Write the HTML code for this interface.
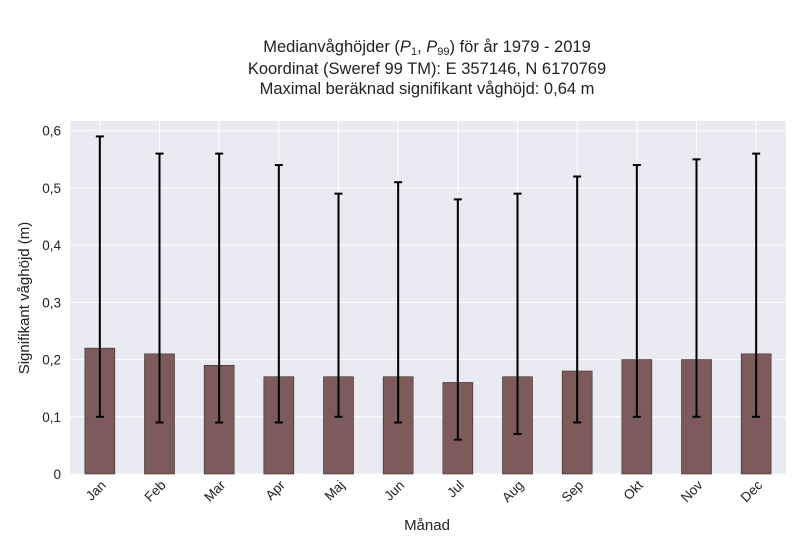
<!DOCTYPE html>
<html><head><meta charset="utf-8"><style>
body{margin:0;background:#fff;font-family:"Liberation Sans",sans-serif;}
</style></head><body>
<svg width="800" height="550" xmlns="http://www.w3.org/2000/svg">
<g font-size="16.5" fill="#222" text-anchor="middle">
<text x="427" y="52">Medianvåghöjder (<tspan font-style="italic">P</tspan><tspan font-size="11" dy="3">1</tspan><tspan dy="-3">, </tspan><tspan font-style="italic">P</tspan><tspan font-size="11" dy="3">99</tspan><tspan dy="-3">) för år 1979 - 2019</tspan></text>
<text x="427" y="74">Koordinat (Sweref 99 TM): E 357146, N 6170769</text>
<text x="427" y="94">Maximal beräknad signifikant våghöjd: 0,64 m</text>
</g>
<rect x="70" y="121" width="716" height="353" fill="#eaeaf2"/>
<g id="grid"></g><g id="bars"></g><g id="axes"></g>
<text x="427" y="530" font-size="15" text-anchor="middle" fill="#222">Månad</text>
<text transform="translate(29,298) rotate(-90)" font-size="15" text-anchor="middle" fill="#222">Signifikant våghöjd (m)</text>
</svg>
<script>
const months=["Jan","Feb","Mar","Apr","Maj","Jun","Jul","Aug","Sep","Okt","Nov","Dec"];
const medians=[0.22,0.21,0.19,0.17,0.17,0.17,0.16,0.17,0.18,0.20,0.20,0.21];
const p1=[0.10,0.09,0.09,0.09,0.10,0.09,0.06,0.07,0.09,0.10,0.10,0.10];
const p99=[0.59,0.56,0.56,0.54,0.49,0.51,0.48,0.49,0.52,0.54,0.55,0.56];
const yTicks=[0,0.1,0.2,0.3,0.4,0.5,0.6];
const yTickLabels=["0","0,1","0,2","0,3","0,4","0,5","0,6"];
const NS="http://www.w3.org/2000/svg";
const L=70,R=786,B=474,T=121,yMax=0.617;
const step=(R-L)/months.length;
const x=i=>L+step*(i+0.5);
const y=v=>B-v/yMax*(B-T);
function mk(tag,a,p){const e=document.createElementNS(NS,tag);for(const k in a)e.setAttribute(k,a[k]);p.appendChild(e);return e;}
const g=document.getElementById('grid'),b=document.getElementById('bars'),ax=document.getElementById('axes');
yTicks.forEach((t,i)=>{
 const l=mk('line',{x1:L,x2:R,y1:y(t),y2:y(t),stroke:'#fff','stroke-width':1},g);
 
 
 const tx=mk('text',{x:L-9,y:y(t)+5,'font-size':13.5,'text-anchor':'end',fill:'#222'},ax);
 tx.textContent=yTickLabels[i];
 
 
});
months.forEach((m,i)=>{
 const gl=mk('line',{x1:x(i),x2:x(i),y1:T,y2:B,stroke:'#fff','stroke-width':1},g);
 
 
 const r=mk('rect',{x:x(i)-15,y:y(medians[i]),width:30,height:B-y(medians[i]),fill:'#7d5b5b',stroke:'#3a2a2a','stroke-width':0.6},b);
 
 
 const e=mk('g',{stroke:'#000','stroke-width':2},b);
 
 
 mk('line',{x1:x(i),x2:x(i),y1:y(p1[i]),y2:y(p99[i])},e);
 mk('line',{x1:x(i)-4,x2:x(i)+4,y1:y(p1[i]),y2:y(p1[i])},e);
 mk('line',{x1:x(i)-4,x2:x(i)+4,y1:y(p99[i]),y2:y(p99[i])},e);
 const tx=mk('text',{'font-size':13.5,'text-anchor':'end',fill:'#222',transform:`translate(${x(i)+7},${B+12}) rotate(-45)`},ax);
 tx.textContent=m;
 
 
});
</script>
</body></html>
